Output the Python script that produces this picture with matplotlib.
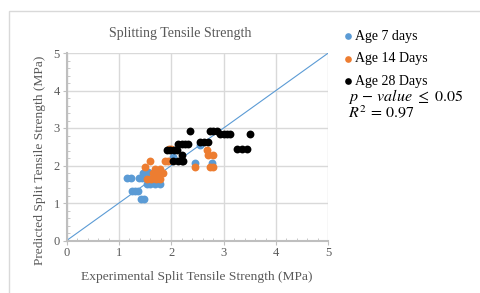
import matplotlib
matplotlib.use("Agg")
import matplotlib.pyplot as plt
from matplotlib.patches import Rectangle
from matplotlib.ticker import MultipleLocator

plt.rcParams['font.family'] = ['Liberation Serif', 'DejaVu Serif']
plt.rcParams['mathtext.fontset'] = 'stix'

title = "Splitting Tensile Strength"
xlabel = "Experimental Split Tensile Strength (MPa)"
ylabel = "Predicted Split Tensile Strength (MPa)"
labels = ["Age 7 days", "Age 14 Days", "Age 28 Days"]
colors = ["#5B9BD5", "#ED7D31", "#000000"]

x7 = [1.15, 1.23, 1.24, 1.30, 1.36, 1.42, 1.48, 1.39, 1.43, 1.46, 1.56,
      1.53, 1.60, 1.68, 1.78, 2.04, 2.46, 2.77, 2.55]
y7 = [1.66, 1.66, 1.32, 1.32, 1.32, 1.11, 1.11, 1.68, 1.68, 1.80, 1.82,
      1.52, 1.52, 1.52, 1.52, 2.24, 2.06, 2.06, 2.54]

x14 = [1.50, 1.59, 1.69, 1.78, 1.72, 1.53, 1.62, 1.70, 1.78, 1.84, 1.65,
       1.88, 1.93, 2.00, 1.96, 2.46, 2.68, 2.70, 2.80, 2.74, 2.80]
y14 = [1.96, 2.12, 1.92, 1.92, 1.78, 1.65, 1.65, 1.65, 1.65, 1.79, 1.80,
       2.11, 2.11, 2.45, 2.45, 1.96, 2.41, 2.27, 2.27, 1.95, 1.95]

x28 = [2.36, 2.74, 2.80, 2.87, 2.93, 3.00, 3.06, 3.12, 3.50,
       2.13, 2.20, 2.27, 2.32, 2.55, 2.62, 2.70,
       1.92, 1.98, 2.05, 2.11, 2.20, 2.04, 2.12, 2.20, 2.23,
       3.26, 3.35, 3.45]
y28 = [2.92, 2.92, 2.92, 2.92, 2.83, 2.83, 2.83, 2.83, 2.83,
       2.58, 2.58, 2.58, 2.58, 2.63, 2.63, 2.63,
       2.41, 2.41, 2.41, 2.41, 2.27, 2.11, 2.11, 2.11, 2.11,
       2.45, 2.45, 2.45]

line_x = [0, 5]
line_y = [0, 5]

fig = plt.figure(figsize=(4.8, 2.93), dpi=100)
fig.patches.append(Rectangle((8.5/480, -0.1), 1.2, 1.1 - 11/293,
                             transform=fig.transFigure, fill=False,
                             edgecolor="#d9d9d9", linewidth=1.0))
ax = fig.add_axes([66.7/480, 1 - 240.5/293, (328.3 - 66.7)/480, (240.5 - 53)/293])

ax.plot(line_x, line_y, color="#5B9BD5", linewidth=0.8, zorder=2)
for xs, ys, c, lab in zip([x7, x14, x28], [y7, y14, y28], colors, labels):
    ax.scatter(xs, ys, s=32, color=c, label=lab, zorder=3, linewidths=0)

ax.set_xlim(0, 5)
ax.set_ylim(0, 5)
ax.xaxis.set_major_locator(MultipleLocator(1))
ax.yaxis.set_major_locator(MultipleLocator(1))
ax.xaxis.set_minor_locator(MultipleLocator(0.2))
ax.yaxis.set_minor_locator(MultipleLocator(0.2))
ax.grid(True, which='major', color="#d9d9d9", linewidth=1.0, zorder=0)
ax.set_axisbelow(True)
for s in ['top', 'right']:
    ax.spines[s].set_visible(False)
for s in ['left', 'bottom']:
    ax.spines[s].set_color("#bfbfbf")
    ax.spines[s].set_linewidth(1.5)
ax.tick_params(which='major', length=3, color="#bfbfbf", labelcolor="#595959",
               labelsize=9, pad=2)
ax.tick_params(which='minor', length=2, color="#bfbfbf", direction='in')

fig.text(180/480, 1 - 33/293, title, ha='center', va='center',
         fontsize=10.1, color="#595959")
fig.text(197/480, 1 - 277/293, xlabel, ha='center', va='center',
         fontsize=9.7, color="#595959")
fig.text(40/480, 1 - 160/293, ylabel, ha='center', va='center',
         rotation=90, fontsize=9.7, color="#595959")

fig.legend(loc='upper left', bbox_to_anchor=(341/480, 1 - 30/293),
           frameon=False, fontsize=10, handletextpad=0.0, labelspacing=0.68,
           markerscale=0.85, borderaxespad=0, borderpad=0, handlelength=1.0)

fig.text(348/480, 1 - 97/293, r'$p\,-\,value\ \leq\ 0.05$', ha='left',
         va='center', fontsize=11.5, color='black')
fig.text(348/480, 1 - 114/293, r'$R^2\,=\,0.97$', ha='left',
         va='center', fontsize=11.5, color='black')

fig.savefig("out.png", dpi=100)
